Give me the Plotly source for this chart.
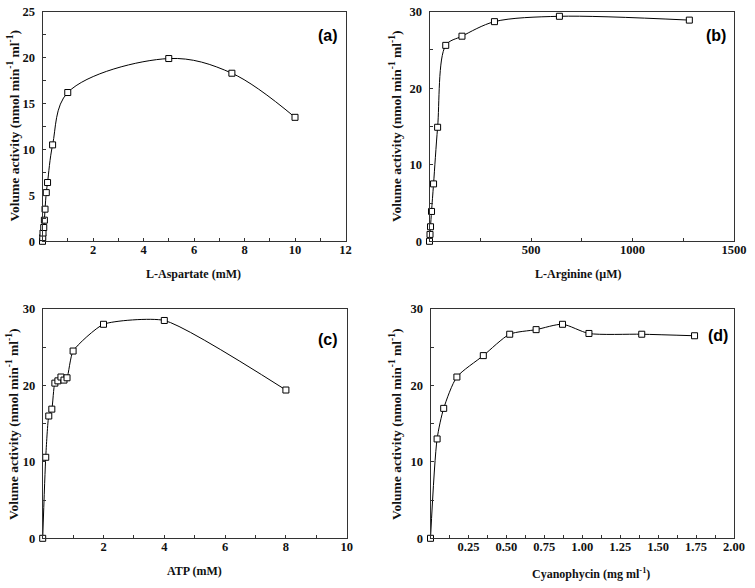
import plotly.graph_objects as go

# ---- data ----
asp_x = [0, 0.01, 0.02, 0.05, 0.075, 0.1, 0.15, 0.2, 0.4, 1.0, 5.0, 7.5, 10.0]
asp_y = [0, 0.4, 0.9, 1.5, 2.3, 3.5, 5.3, 6.4, 10.5, 16.2, 19.9, 18.3, 13.5]

arg_x = [0, 2.5, 5, 10, 20, 40, 80, 160, 320, 640, 1280]
arg_y = [0, 0.9, 1.9, 3.9, 7.5, 14.9, 25.6, 26.8, 28.7, 29.4, 28.9]

atp_x = [0, 0.1, 0.2, 0.3, 0.4, 0.5, 0.6, 0.7, 0.8, 1.0, 2.0, 4.0, 8.0]
atp_y = [0, 10.6, 16.0, 16.9, 20.3, 20.6, 21.1, 20.7, 21.0, 24.5, 28.0, 28.5, 19.4]

cgp_x = [0, 0.0435, 0.087, 0.174, 0.348, 0.522, 0.696, 0.87, 1.044, 1.392, 1.74]
cgp_y = [0, 13.0, 17.0, 21.1, 23.9, 26.7, 27.3, 28.0, 26.8, 26.7, 26.5]

x_titles = ["L-Aspartate (mM)", "L-Arginine (\u00b5M)", "ATP (mM)",
            "Cyanophycin (mg ml<sup>-1</sup>)"]
y_title = "Volume activity (nmol min<sup>-1</sup> ml<sup>-1</sup>)"
panel_labels = ["(a)", "(b)", "(c)", "(d)"]

W, H = 755, 588

def fx(px):
    return px / W

def fy(py):
    return 1 - py / H

# pixel boxes: (left, right, top, bottom)
boxes = [
    (42.5, 345.5, 11.7, 241.3),
    (429.5, 734.0, 11.7, 241.3),
    (42.7, 346.7, 309.0, 538.3),
    (430.5, 734.0, 309.0, 538.3),
]

series = [(asp_x, asp_y, 1.0), (arg_x, arg_y, 0.9), (atp_x, atp_y, 0.55), (cgp_x, cgp_y, 0.7)]

xranges = [[0, 12], [0, 1500], [0, 10], [0, 2.0]]
yranges = [[0, 25], [0, 30], [0, 30], [0, 30]]
xticks = [
    ([2, 4, 6, 8, 10, 12], ["2", "4", "6", "8", "10", "12"], 1),
    ([500, 1000, 1500], ["500", "1000", "1500"], 250),
    ([2, 4, 6, 8, 10], ["2", "4", "6", "8", "10"], 1),
    ([0.25, 0.5, 0.75, 1.0, 1.25, 1.5, 1.75, 2.0],
     ["0.25", "0.50", "0.75", "1.00", "1.25", "1.50", "1.75", "2.00"], 0.125),
]
yticks = [
    ([0, 5, 10, 15, 20, 25], 2.5),
    ([0, 10, 20, 30], 5),
    ([0, 10, 20, 30], 5),
    ([0, 10, 20, 30], 5),
]
xtitle_pos = [(193.5, 274), (578, 274), (194, 571), (591, 573)]
ytitle_pos = [(13.5, 126), (395, 126), (12, 424), (395, 424)]
label_pos = [(328, 35), (716, 35), (328, 339), (718, 335)]

serif = "Liberation Serif, Times New Roman, serif"
sans = "Liberation Sans, Arial, sans-serif"
axcol = "#333"

fig = go.Figure()
layout = dict(
    width=W, height=H,
    margin=dict(l=0, r=0, t=0, b=0, autoexpand=False),
    paper_bgcolor="white", plot_bgcolor="white",
    showlegend=False,
    annotations=[],
)

for i in range(4):
    n = "" if i == 0 else str(i + 1)
    xs, ys, sm = series[i]
    fig.add_trace(go.Scatter(
        x=xs, y=ys, mode="lines+markers",
        line=dict(color="black", width=1, shape="spline", smoothing=sm),
        marker=dict(symbol="square", size=6, color="white",
                    line=dict(color="black", width=1)),
        xaxis="x" + n, yaxis="y" + n, cliponaxis=False,
    ))
    l, r, t, b = boxes[i]
    tv, tt, mdt = xticks[i]
    ytv, ymdt = yticks[i]
    layout["xaxis" + n] = dict(
        domain=[fx(l), fx(r)], anchor="y" + n, range=xranges[i],
        showline=True, mirror=True, linecolor=axcol, linewidth=1,
        showgrid=False, zeroline=False, automargin=False,
        ticks="inside", ticklen=3, tickwidth=1, tickcolor=axcol,
        tickvals=tv, ticktext=tt, ticklabelstandoff=-3,
        minor=dict(dtick=mdt, tick0=0, ticks="inside", ticklen=3, tickcolor=axcol, showgrid=False),
        tickfont=dict(family=serif, size=12.5, color="#111", weight="bold"),
    )
    layout["yaxis" + n] = dict(
        domain=[fy(b), fy(t)], anchor="x" + n, range=yranges[i],
        showline=True, mirror=True, linecolor=axcol, linewidth=1,
        showgrid=False, zeroline=False, automargin=False,
        ticks="inside", ticklen=3, tickwidth=1, tickcolor=axcol,
        tickvals=ytv, ticklabelstandoff=4,
        minor=dict(dtick=ymdt, tick0=0, ticks="inside", ticklen=3, tickcolor=axcol, showgrid=False),
        tickfont=dict(family=serif, size=12.5, color="#111", weight="bold"),
    )
    px_, py_ = xtitle_pos[i]
    layout["annotations"].append(dict(
        text="<b>" + x_titles[i] + "</b>", xref="paper", yref="paper",
        x=fx(px_), y=fy(py_), xanchor="center", yanchor="middle",
        showarrow=False, font=dict(family=serif, size=12, color="#111"),
    ))
    px_, py_ = ytitle_pos[i]
    layout["annotations"].append(dict(
        text="<b>" + y_title + "</b>", xref="paper", yref="paper",
        x=fx(px_), y=fy(py_), xanchor="center", yanchor="middle",
        textangle=-90, showarrow=False, font=dict(family=serif, size=13.5, color="#111"),
    ))

for i, (px_, py_) in enumerate(label_pos):
    layout["annotations"].append(dict(
        text="<b>" + panel_labels[i] + "</b>", xref="paper", yref="paper",
        x=fx(px_), y=fy(py_), xanchor="center", yanchor="middle",
        showarrow=False, font=dict(family=sans, size=16, color="black"),
    ))

fig.update_layout(**layout)
fig.write_html(
    "out.html",
    config={"displayModeBar": False},
    post_script="document.body.style.margin='0';document.body.style.overflow='hidden';",
)
